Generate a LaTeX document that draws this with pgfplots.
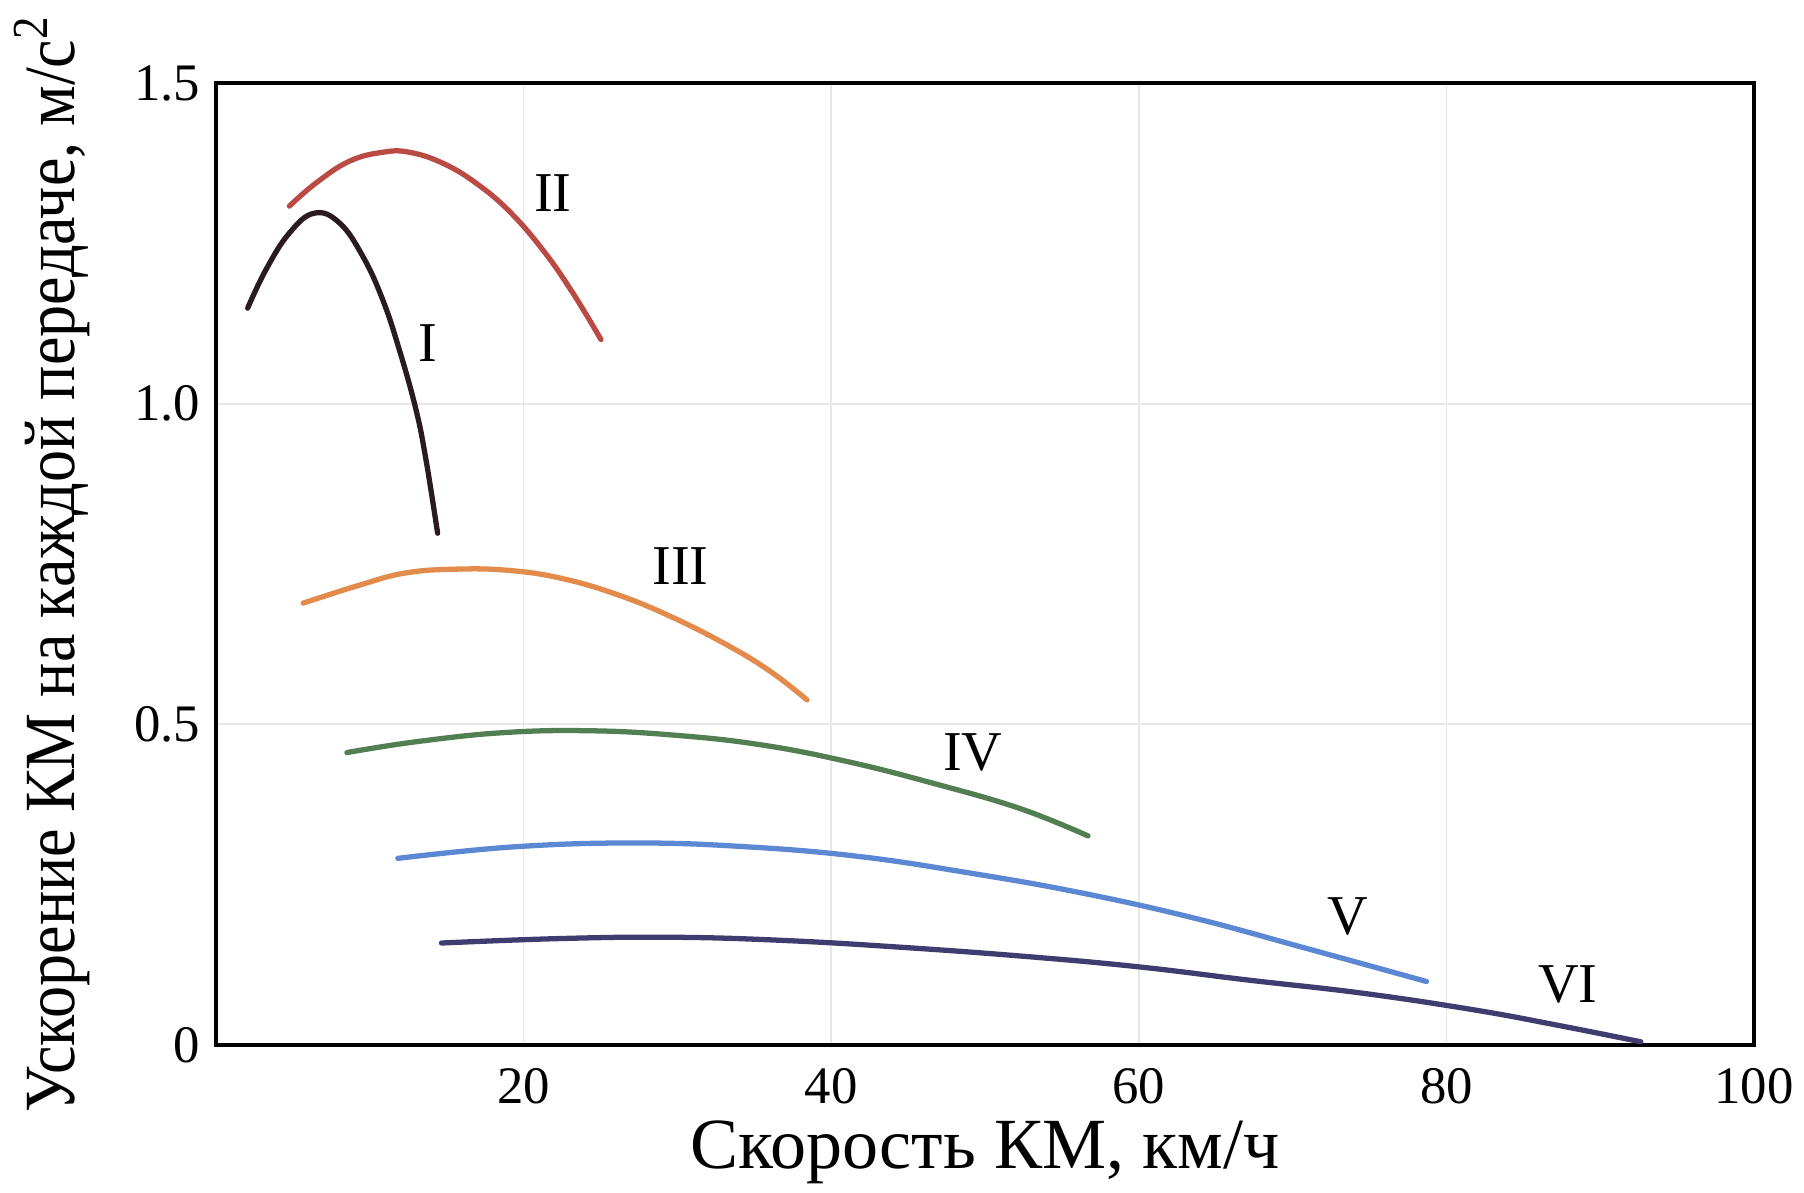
\documentclass[border=0pt]{standalone}
\usepackage{pgfplots}
\pgfplotsset{compat=1.18}
\usepackage{fontspec}
\setmainfont{Liberation Serif}
\newfontfamily\condfont[FakeStretch=0.89]{Liberation Serif}
\definecolor{cI}{HTML}{2A1B1F}
\definecolor{cII}{HTML}{B94A44}
\definecolor{cIII}{HTML}{E38B4B}
\definecolor{cIV}{HTML}{527F52}
\definecolor{cV}{HTML}{5B87D3}
\definecolor{cVI}{HTML}{3F3D70}
\begin{document}
\begin{tikzpicture}
\path[use as bounding box] (-21.6mm,-14.7mm) rectangle (158.8mm,104.5mm);
\begin{axis}[
  width=153.8mm, height=96.2mm, scale only axis,
  xmin=0, xmax=100, ymin=0, ymax=1.5,
  xtick={20,40,60,80,100},
  ytick={0,0.5,1,1.5}, yticklabels={0,0.5,1.0,1.5},
  major tick length=0pt,
  grid=major, grid style={draw=black!9, line width=0.5pt},
  axis line style={line width=0.9pt, black},
  tick label style={font=\fontsize{15}{18}\selectfont},
  /pgf/number format/assume math mode=true,
  xticklabel style={yshift=-3pt},
  yticklabel style={xshift=-1pt},
  xlabel={Скорость КМ, км/ч},
  ylabel={Ускорение КМ на каждой передаче, м/с\textsuperscript{2}},
  xlabel style={font=\fontsize{20.5}{24}\selectfont, at={(axis description cs:0.5,-0.112)}, anchor=center},
  ylabel style={font=\condfont\fontsize{20.5}{24}\selectfont, at={(axis description cs:-0.1066,0.5)}, anchor=center},
  every axis plot/.append style={line width=1.5pt, smooth, tension=0.7, line cap=round},
  clip=false,
]
% I
\addplot[cI] coordinates {(2.06,1.149) (3.25,1.209) (4.77,1.266) (6.39,1.297) (8.02,1.282) (9.54,1.230) (10.84,1.162) (11.92,1.084) (13.0,0.991) (13.65,0.913) (14.41,0.798)};
% II
\addplot[cII] coordinates {(4.77,1.308) (6.5,1.344) (8.67,1.378) (10.84,1.392) (12.57,1.392) (14.74,1.375) (16.9,1.344) (19.07,1.300) (21.24,1.240) (23.19,1.173) (25.03,1.100)};
% III
\addplot[cIII] coordinates {(5.67,0.689) (9.33,0.717) (12.31,0.736) (15.67,0.742) (19.03,0.740) (22.39,0.728) (26.12,0.702) (29.85,0.665) (33.58,0.619) (36.19,0.580) (38.43,0.538)};
% IV
\addplot[cIV] coordinates {(8.51,0.456) (13.06,0.473) (18.66,0.487) (24.25,0.490) (29.85,0.483) (35.45,0.468) (41.04,0.442) (46.64,0.408) (52.24,0.369) (56.7,0.326)};
% V
\addplot[cV] coordinates {(11.82,0.291) (19.39,0.309) (27.26,0.315) (34.53,0.309) (41.79,0.294) (49.05,0.268) (56.3,0.237) (63.58,0.198) (70.84,0.151) (78.71,0.099)};
% VI
\addplot[cVI] coordinates {(14.66,0.159) (22.41,0.166) (29.67,0.168) (36.94,0.163) (44.8,0.152) (52.68,0.138) (59.94,0.122) (67.2,0.101) (74.47,0.081) (81.74,0.055) (87.19,0.031) (92.64,0.005)};
\begin{scope}[every node/.style={font=\fontsize{16}{19}\selectfont}]
\node at (axis cs:13.76,1.095) {I};
\node at (axis cs:21.9,1.328) {II};
\node at (axis cs:30.2,0.746) {III};
\node at (axis cs:49.2,0.456) {IV};
\node at (axis cs:73.6,0.200) {V};
\node at (axis cs:87.9,0.094) {VI};
\end{scope}
\end{axis}
\end{tikzpicture}
\end{document}
